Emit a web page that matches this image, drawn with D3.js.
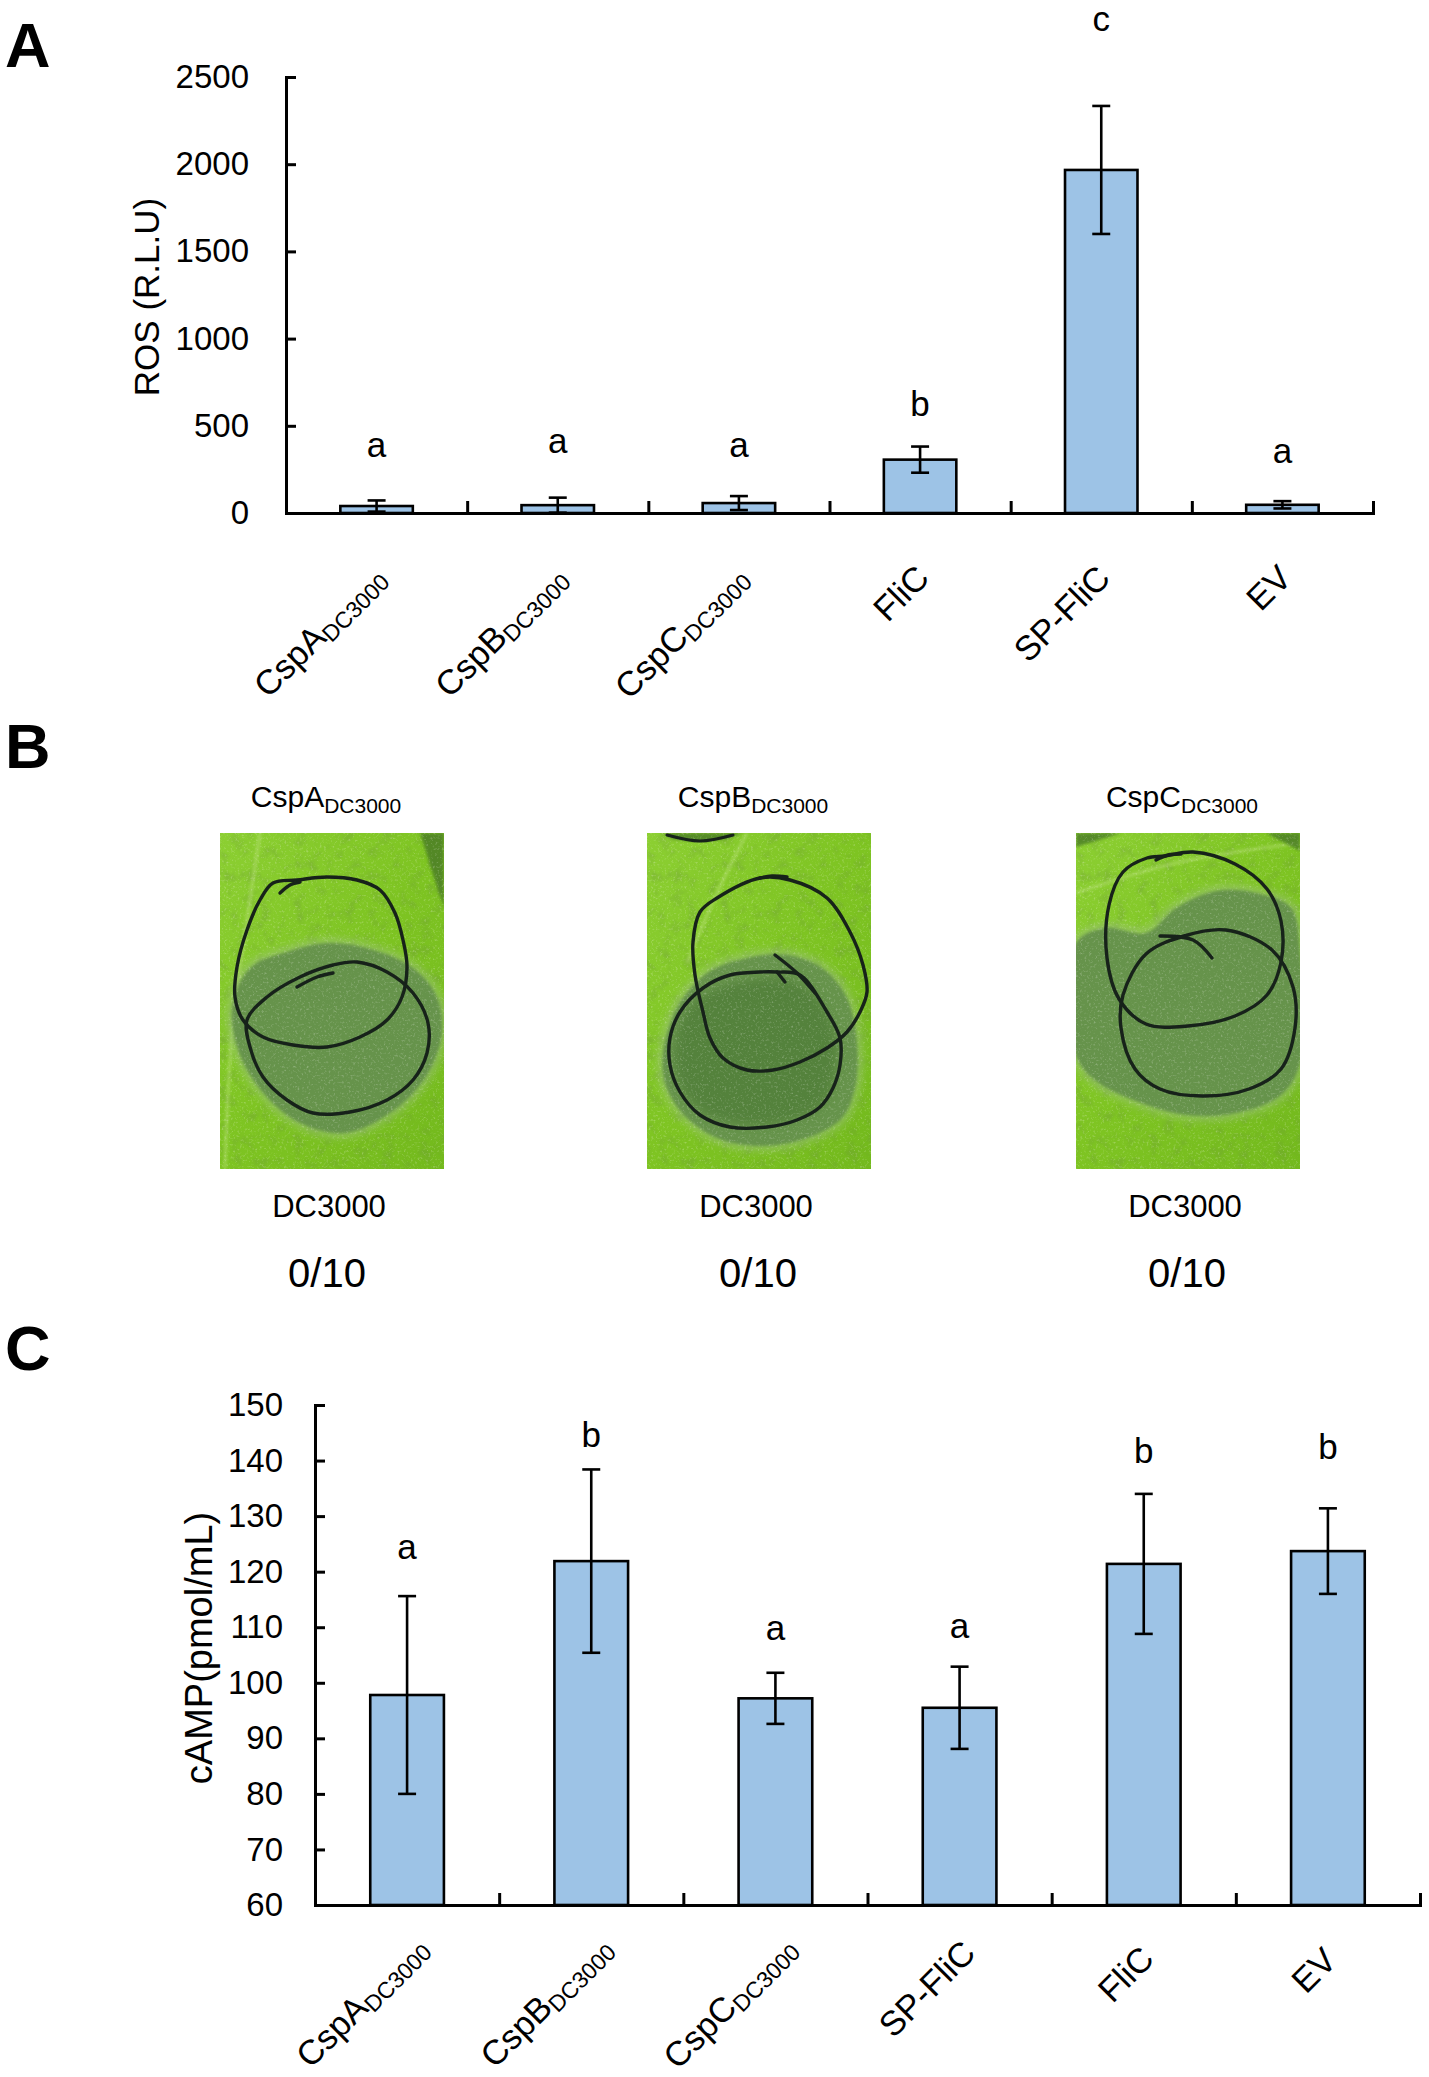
<!DOCTYPE html>
<html><head><meta charset="utf-8">
<script src="https://cdn.jsdelivr.net/npm/d3@7"></script>
<style>
body{margin:0;background:#fff}
svg text{font-family:Arial,"Liberation Sans",sans-serif;fill:#000}
</style>
</head><body>
<svg id="fig" width="1429" height="2077" xmlns="http://www.w3.org/2000/svg"></svg>
<script>
// ---------------- DATA ----------------
const rosCategories = ["CspA_DC3000","CspB_DC3000","CspC_DC3000","FliC","SP-FliC","EV"];
const rosValues     = [40, 45, 57, 306, 1967, 47];
const rosErrors     = [32, 43, 40, 75, 367, 21];
const rosLetters    = ["a","a","a","b","c","a"];
const rosLetterPos  = [389, 415, 389, 625, 2835, 358];
const rosTicks      = [0, 500, 1000, 1500, 2000, 2500];

const campCategories = ["CspA_DC3000","CspB_DC3000","CspC_DC3000","SP-FliC","FliC","EV"];
const campValues     = [97.8, 121.9, 97.2, 95.5, 121.4, 123.7];
const campErrors     = [17.8, 16.5, 4.6, 7.4, 12.6, 7.7];
const campLetters    = ["a","b","a","a","b","b"];
const campLetterPos  = [124.4, 144.6, 109.9, 110.3, 141.7, 142.4];
const campTicks      = [60, 70, 80, 90, 100, 110, 120, 130, 140, 150];

const leafTitles = ["CspA_DC3000","CspB_DC3000","CspC_DC3000"];
const leafStrain = ["DC3000","DC3000","DC3000"];
const leafRatio  = ["0/10","0/10","0/10"];

// ---------------- SETUP ----------------
const svg = d3.select("#fig");
const defs = svg.append("defs");
const BAR_FILL = "#9dc3e6";
const FONT = 'Arial,"Liberation Sans",sans-serif';

function catLabel(sel, name, mainSize, subSize, dy) {
  const parts = name.split("_");
  sel.append("tspan").attr("font-size", mainSize).text(parts[0]);
  if (parts[1]) sel.append("tspan").attr("font-size", subSize).attr("dy", dy).text(parts[1]);
}

function barPanel(cfg) {
  const g = svg.append("g");
  const n = cfg.categories.length;
  const x = d3.scaleBand().domain(cfg.categories).range([cfg.x0, cfg.x1]).paddingInner(0.6).paddingOuter(0.3);
  const y = d3.scaleLinear().domain(cfg.domain).range([cfg.yBottom, cfg.yTop]);
  const cx = d => x(d) + x.bandwidth() / 2;

  g.selectAll("rect.bar").data(cfg.values).join("rect").attr("class", "bar")
    .attr("x", (d, i) => x(cfg.categories[i]))
    .attr("y", d => y(d))
    .attr("width", x.bandwidth())
    .attr("height", d => y(cfg.domain[0]) - y(d))
    .attr("fill", BAR_FILL).attr("stroke", "#000").attr("stroke-width", 2.6);

  const eg = g.append("g").attr("stroke", "#000").attr("stroke-width", 2.6);
  cfg.values.forEach((v, i) => {
    const c = cx(cfg.categories[i]);
    const hi = y(v + cfg.errors[i]), lo = y(v - cfg.errors[i]);
    eg.append("line").attr("x1", c).attr("x2", c).attr("y1", hi).attr("y2", lo);
    eg.append("line").attr("x1", c - 9).attr("x2", c + 9).attr("y1", hi).attr("y2", hi);
    eg.append("line").attr("x1", c - 9).attr("x2", c + 9).attr("y1", lo).attr("y2", lo);
  });

  const ya = g.append("g").attr("transform", `translate(${cfg.x0},0)`)
    .call(d3.axisLeft(y).tickValues(cfg.ticks).tickSizeInner(-10).tickSizeOuter(0)
      .tickPadding(cfg.tickPad).tickFormat(d3.format("d")));
  ya.select(".domain").attr("stroke", "#000").attr("stroke-width", 3).attr("stroke-linecap", "square");
  ya.selectAll(".tick line").attr("stroke", "#000").attr("stroke-width", 3);
  ya.selectAll(".tick text").attr("font-size", 33).attr("font-family", FONT).attr("fill", "#000");

  const xi = d3.scaleLinear().domain([0, n]).range([cfg.x0, cfg.x1]);
  const xa = g.append("g").attr("transform", `translate(0,${cfg.yBottom})`)
    .call(d3.axisBottom(xi).tickValues(d3.range(1, n + 1)).tickSizeInner(-12).tickSizeOuter(0).tickFormat(""));
  xa.select(".domain").attr("stroke", "#000").attr("stroke-width", 3).attr("stroke-linecap", "square");
  xa.selectAll(".tick line").attr("stroke", "#000").attr("stroke-width", 3);

  g.selectAll("text.xl").data(cfg.categories).join("text").attr("class", "xl")
    .attr("text-anchor", "end")
    .attr("transform", d => `translate(${cx(d) + cfg.lblDx},${cfg.yBottom + cfg.lblDy}) rotate(-45)`)
    .each(function (d) {
      const t = d3.select(this);
      catLabel(t, d, 34.5, 23, 5);
      const L = this.getComputedTextLength();
      t.attr("x", cfg.lblFrac * L);
    });

  g.selectAll("text.sig").data(cfg.letters).join("text").attr("class", "sig")
    .attr("x", (d, i) => cx(cfg.categories[i]))
    .attr("y", (d, i) => y(cfg.letterPos[i]))
    .attr("dy", "0.35em")
    .attr("text-anchor", "middle").attr("font-size", 35).text(d => d);

  g.append("text").attr("transform", `translate(${cfg.titleX},${cfg.titleY}) rotate(-90)`)
    .attr("text-anchor", "middle").attr("dy", "0.35em").attr("font-size", cfg.titleSize).text(cfg.title);
}

// ---------------- PANEL A ----------------
barPanel({
  categories: rosCategories, values: rosValues, errors: rosErrors,
  letters: rosLetters, letterPos: rosLetterPos, ticks: rosTicks,
  domain: [0, 2500], x0: 286, x1: 1373, yBottom: 513, yTop: 77,
  tickPad: 37, lblDx: 11, lblDy: 67, lblFrac: 0,
  title: "ROS (R.L.U)", titleX: 147, titleY: 297, titleSize: 35
});

// ---------------- PANEL C ----------------
barPanel({
  categories: campCategories, values: campValues, errors: campErrors,
  letters: campLetters, letterPos: campLetterPos, ticks: campTicks,
  domain: [60, 150], x0: 315, x1: 1420, yBottom: 1905, yTop: 1405,
  tickPad: 32, lblDx: 6, lblDy: 62, lblFrac: 0.14,
  title: "cAMP(pmol/mL)", titleX: 199, titleY: 1648, titleSize: 38
});

[["A", 67], ["B", 768], ["C", 1370]].forEach(([t, yb]) => {
  svg.append("text").attr("x", 5).attr("y", yb).attr("font-size", 63).attr("font-weight", "bold").text(t);
});

// ---------------- PANEL B (leaf photos, drawn) ----------------
const PW = 224, PH = 336, PY = 833;
const photoX = [220, 647, 1076];

const grad = defs.append("linearGradient").attr("id", "leafGrad").attr("x1", 0).attr("y1", 0).attr("x2", 1).attr("y2", 1);
grad.append("stop").attr("offset", 0).attr("stop-color", "#8ccf32");
grad.append("stop").attr("offset", 0.5).attr("stop-color", "#7ec422");
grad.append("stop").attr("offset", 1).attr("stop-color", "#73b91d");

const blur = defs.append("filter").attr("id", "blur5").attr("x", "-20%").attr("y", "-20%").attr("width", "140%").attr("height", "140%");
blur.append("feGaussianBlur").attr("stdDeviation", 4);
const blur2 = defs.append("filter").attr("id", "blur2");
blur2.append("feGaussianBlur").attr("stdDeviation", 1.5);

const spk = defs.append("filter").attr("id", "speckle").attr("x", 0).attr("y", 0).attr("width", "100%").attr("height", "100%");
spk.append("feTurbulence").attr("type", "fractalNoise").attr("baseFrequency", 0.45).attr("numOctaves", 2).attr("seed", 7).attr("result", "n");
spk.append("feColorMatrix").attr("in", "n").attr("type", "matrix")
  .attr("values", "0 0 0 0 1  0 0 0 0 1  0 0 0 0 1  3.2 0 0 0 -1.75");
const spk2 = defs.append("filter").attr("id", "speckleDark").attr("x", 0).attr("y", 0).attr("width", "100%").attr("height", "100%");
spk2.append("feTurbulence").attr("type", "fractalNoise").attr("baseFrequency", 0.08).attr("numOctaves", 3).attr("seed", 2).attr("result", "n");
spk2.append("feColorMatrix").attr("in", "n").attr("type", "matrix")
  .attr("values", "0 0 0 0 0.15  0 0 0 0 0.3  0 0 0 0 0.05  0 2.4 0 0 -1.2");

const leafShapes = [
  { // CspA
    upper: [[53,50],[77,47],[107,44],[137,47],[160,57],[175,80],[183,107],[187,134],[182,164],[167,187],[140,204],[107,214],[73,212],[43,204],[23,187],[15,164],[17,134],[27,97],[40,67]],
    lower: [[27,187],[47,164],[80,144],[113,132],[137,129],[167,139],[193,160],[208,190],[207,220],[193,247],[167,267],[130,279],[93,280],[67,267],[43,244],[30,214]],
    lesion: [[12,175],[30,135],[70,118],[110,110],[150,116],[190,133],[215,160],[222,200],[205,245],[170,280],[125,300],[80,290],[45,262],[20,222]],
    core: null,
    tails: [[[77,154],[97,144],[113,140]], [[60,60],[70,52],[80,49]]],
    darks: [[[200,0],[224,0],[224,75],[214,45]]],
    vein: [[40,0],[28,80],[12,200],[5,336]]
  },
  { // CspB
    upper: [[70,65],[113,45],[143,47],[180,65],[203,99],[216,132],[220,159],[213,179],[200,199],[180,215],[153,229],[126,237],[100,237],[76,225],[63,205],[56,179],[48,142],[46,109],[53,79]],
    lower: [[23,205],[33,179],[56,155],[83,142],[113,139],[130,139],[153,142],[180,179],[193,205],[193,232],[186,255],[173,274],[150,287],[120,294],[83,294],[53,282],[33,259],[23,232]],
    lesion: [[16,220],[30,175],[60,140],[100,125],[140,122],[175,135],[200,165],[210,210],[208,255],[195,285],[160,305],[115,313],[70,305],[35,280],[18,250]],
    core: [[28,215],[40,178],[65,158],[100,148],[135,146],[165,160],[186,195],[188,240],[175,272],[140,288],[95,291],[58,280],[33,252]],
    tails: [[[128,122],[150,140],[168,160]], [[130,139],[138,149]], [[113,45],[125,43],[140,44]]],
    darks: [[[15,0],[95,0],[80,6],[50,9],[25,6]]],
    topArc: [[20,2],[53,8],[86,2]],
    vein: [[100,0],[70,60],[40,130]]
  },
  { // CspC
    upper: [[89,23],[117,19],[159,31],[191,56],[205,88],[205,129],[191,162],[159,183],[112,193],[70,191],[43,166],[31,125],[33,72],[47,39],[71,25]],
    lower: [[47,162],[70,121],[108,103],[150,97],[196,117],[217,154],[219,195],[205,236],[173,256],[126,263],[84,256],[59,236],[45,195]],
    lesion: [[0,110],[30,95],[70,100],[100,75],[140,58],[180,60],[215,75],[224,120],[224,230],[205,262],[160,280],[110,282],[60,268],[20,248],[0,222]],
    core: null,
    tails: [[[84,103],[117,107],[136,125]], [[80,27],[92,22],[105,21]]],
    darks: [[[0,0],[45,0],[0,14]], [[190,0],[224,0],[224,18]]],
    vein: [[0,60],[100,30],[224,10]]
  }
];

const closed = d3.line().curve(d3.curveCatmullRomClosed.alpha(0.5));
const open = d3.line().curve(d3.curveCatmullRom.alpha(0.5));
const poly = d3.line().curve(d3.curveLinearClosed);

leafShapes.forEach((s, i) => {
  const g = svg.append("g").attr("transform", `translate(${photoX[i]},${PY})`);
  defs.append("clipPath").attr("id", "leafClip" + i).append("rect").attr("width", PW).attr("height", PH);
  const c = g.append("g").attr("clip-path", `url(#leafClip${i})`);
  c.append("rect").attr("width", PW).attr("height", PH).attr("fill", "url(#leafGrad)");
  c.append("rect").attr("width", PW).attr("height", PH).attr("filter", "url(#speckleDark)").attr("opacity", 0.35);
  if (s.vein) c.append("path").attr("d", open(s.vein)).attr("fill", "none").attr("stroke", "#c4e68a").attr("stroke-width", 3).attr("opacity", 0.45).attr("filter", "url(#blur2)");
  s.darks.forEach(dk => c.append("path").attr("d", poly(dk)).attr("fill", "#4a7a28").attr("opacity", 0.8).attr("filter", "url(#blur2)"));
  c.append("path").attr("d", closed(s.lesion)).attr("fill", "none").attr("stroke", "#9fc088").attr("stroke-width", 9).attr("opacity", 0.6).attr("filter", "url(#blur5)");
  c.append("path").attr("d", closed(s.lesion)).attr("fill", "#66934c").attr("filter", "url(#blur2)");
  if (s.core) c.append("path").attr("d", closed(s.core)).attr("fill", "#4f7d38").attr("opacity", 0.75).attr("filter", "url(#blur5)");
  c.append("rect").attr("width", PW).attr("height", PH).attr("filter", "url(#speckle)").attr("opacity", 0.25);
  const ink = c.append("g").attr("fill", "none").attr("stroke", "#17221a").attr("stroke-width", 3.4).attr("stroke-linejoin", "round").attr("stroke-linecap", "round");
  ink.append("path").attr("d", closed(s.upper));
  ink.append("path").attr("d", closed(s.lower));
  s.tails.forEach(t => ink.append("path").attr("d", open(t)));
  if (s.topArc) ink.append("path").attr("d", open(s.topArc)).attr("stroke-width", 3);

  const mid = photoX[i] + PW / 2;
  svg.append("text").attr("x", mid - 6).attr("y", 807).attr("text-anchor", "middle")
    .call(t => catLabel(t, leafTitles[i], 30, 21, 6));
  svg.append("text").attr("x", mid - 3).attr("y", 1217).attr("text-anchor", "middle").attr("font-size", 31).text(leafStrain[i]);
  svg.append("text").attr("x", mid - 4 + (i === 0 ? -1 : 3)).attr("y", 1287).attr("text-anchor", "middle").attr("font-size", 40).text(leafRatio[i]);
});
</script>
</body></html>
